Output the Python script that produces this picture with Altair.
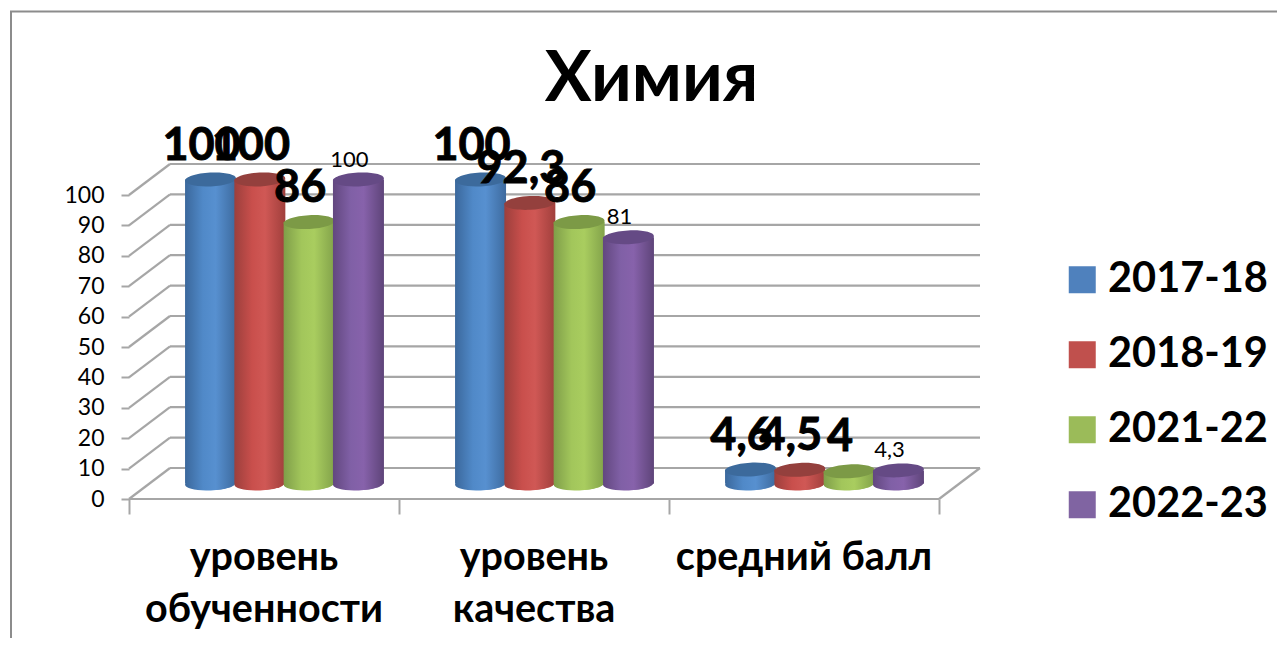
import altair as alt
import pandas as pd

FONT = "Lato"
GRAY = "#a6a6a6"

categories = ["уровень обученности", "уровень качества", "средний балл"]
category_lines = [["уровень", "обученности"], ["уровень", "качества"], ["средний балл"]]
series = ["2017-18", "2018-19", "2021-22", "2022-23"]
values_2017 = [100, 100, 4.6]
values_2018 = [100, 92.3, 4.5]
values_2021 = [86, 86, 4]
values_2022 = [100, 81, 4.3]
all_values = [values_2017, values_2018, values_2021, values_2022]
y_ticks = [0, 10, 20, 30, 40, 50, 60, 70, 80, 90, 100]

legend_colors = ["#4f81bd", "#c0504d", "#9bbb59", "#8064a2"]
top_colors = ["#3c6a9c", "#94403d", "#7c9a46", "#654a85"]
body_stops = [
    ["#3b689c", "#5089c8", "#5790d0", "#3d6a9e"],
    ["#9c3f3c", "#c94f4c", "#d05855", "#a03f3c"],
    ["#7f9e49", "#a2c65b", "#a9cd5f", "#82a24a"],
    ["#62477f", "#8060a6", "#8762ab", "#5e4479"],
]

# page geometry of the pseudo-3D box
W, H = 1269, 630
PX_X = 270.0            # px per category
PX_Y = 3.04             # px per value unit
X0 = 121.0              # plot px of x = 0
Y0 = 491.0              # plot px of y = 0
DEPTH_X = 41.0 / PX_X   # wall depth in x units
DEPTH_Y = 31.0 / PX_Y   # wall depth in y units
SPACING = 49.3 / PX_X
CYL_W = 51.0 / PX_X
ELLIPSE = "M-1,0 A1,0.27 0 1 1 1,0 A1,0.27 0 1 1 -1,0 Z"

x_scale = alt.Scale(domain=[-X0 / PX_X, (W - X0) / PX_X], nice=False, zero=False)
y_scale = alt.Scale(domain=[(Y0 - H) / PX_Y, Y0 / PX_Y], nice=False, zero=False)
X = lambda f, **k: alt.X(f, type="quantitative", scale=x_scale, title=None, **k)
Y = lambda f, **k: alt.Y(f, type="quantitative", scale=y_scale, title=None, **k)

# walls
lines = []
for v in y_ticks:
    lines.append(dict(x=DEPTH_X, x2=3 + DEPTH_X, y=v + DEPTH_Y, y2=v + DEPTH_Y))
    lines.append(dict(x=0, x2=DEPTH_X, y=v, y2=v + DEPTH_Y))
lines.append(dict(x=0, x2=3, y=0, y2=0))
lines.append(dict(x=3, x2=3 + DEPTH_X, y=0, y2=DEPTH_Y))
grid = alt.Chart(pd.DataFrame(lines)).mark_rule(color=GRAY, strokeWidth=2.2).encode(
    x=X("x", axis=alt.Axis(values=[0, 1, 2, 3], labels=False, domain=False, grid=False,
                           ticks=True, tickSize=15, tickColor=GRAY, tickWidth=2,
                           offset=-(H - Y0))),
    x2="x2",
    y=Y("y", axis=alt.Axis(values=y_ticks, domain=False, grid=False, ticks=True, tickSize=8,
                           tickColor=GRAY, tickWidth=2, offset=-X0, labelFont=FONT,
                           labelFontSize=23, labelColor="#000000", labelPadding=17)),
    y2="y2",
)

# frame
frame_left = alt.Chart().mark_rule(color="#8c8c8c", strokeWidth=2).encode(
    x=alt.value(3), y=alt.value(3), y2=alt.value(H))
frame_top = alt.Chart().mark_rule(color="#8c8c8c", strokeWidth=2).encode(
    y=alt.value(3.5), x=alt.value(2), x2=alt.value(W))

rows = []
for j, s in enumerate(series):
    for i, c in enumerate(categories):
        v = all_values[j][i]
        cx = i + 0.5 + DEPTH_X / 2 + (j - 1.5) * SPACING
        rows.append(dict(series=s, category=c, value=v, label=str(v).replace(".", ","),
                         cx=cx, left=cx - CYL_W / 2, right=cx + CYL_W / 2,
                         base=DEPTH_Y / 2, top=v + DEPTH_Y / 2))
df = pd.DataFrame(rows)

size = CYL_W**2 * PX_X**2

# legend carrier, hidden below the shaded cylinder bases
legend_layer = alt.Chart(df).mark_point(shape=ELLIPSE, filled=True, size=size * 0.9, opacity=1).encode(
    x=X("cx"), y=Y("base"),
    color=alt.Color("series:N", scale=alt.Scale(domain=series, range=legend_colors),
                    legend=alt.Legend(title=None, orient="none", legendX=1053.5, legendY=251,
                                      direction="vertical", symbolType="square", symbolSize=729,
                                      symbolStrokeWidth=0, symbolOpacity=1,
                                      labelFont=FONT, labelFontSize=41.5, labelFontWeight="bold",
                                      labelColor="#000000", labelOffset=5, labelLimit=300,
                                      rowPadding=32, padding=0)),
)

layers = [frame_left, frame_top, grid, legend_layer]
for j, s in enumerate(series):
    d = df[df.series == s]
    st = body_stops[j]
    grad = alt.Gradient(gradient="linear", x1=0, x2=1, y1=0, y2=0,
                        stops=[alt.GradientStop(color=st[0], offset=0),
                               alt.GradientStop(color=st[1], offset=0.35),
                               alt.GradientStop(color=st[2], offset=0.6),
                               alt.GradientStop(color=st[3], offset=1)])
    base = alt.Chart(d)
    layers.append(base.mark_point(shape=ELLIPSE, filled=True, fill=grad, size=size, angle=357, opacity=1,
                                  stroke=None).encode(x=X("cx"), y=Y("base")))
    layers.append(base.mark_rect(fill=grad).encode(x=X("left"), x2="right", y=Y("base"), y2="top"))
    layers.append(base.mark_point(shape=ELLIPSE, filled=True, fill=top_colors[j], size=size, angle=357,
                                  opacity=1, stroke=None).encode(x=X("cx"), y=Y("top")))

# value labels: the first three series are large and bold, the last one small
big = df[df.series != series[3]]
small = df[df.series == series[3]]
layers.append(alt.Chart(big).mark_text(font=FONT, fontSize=45, fontWeight="bold", color="#000000",
                                       stroke="#000000", strokeWidth=0.9,
                                       align="center", baseline="alphabetic", dx=-9, dy=-20).encode(
    x=X("cx"), y=Y("top"), text="label:N"))
layers.append(alt.Chart(small).mark_text(font=FONT, fontSize=22, color="#000000",
                                         align="center", baseline="alphabetic", dx=-9, dy=-13).encode(
    x=X("cx"), y=Y("top"), text="label:N"))

# category labels
cat_df = pd.DataFrame([dict(x=i + 0.5, lines=category_lines[i]) for i in range(3)])
layers.append(alt.Chart(cat_df).mark_text(font=FONT, fontSize=39.5, fontWeight="bold", color="#000000",
                                          align="center", baseline="alphabetic", lineHeight=52).encode(
    x=X("x"), y=alt.value(562), text="lines:N"))

chart = alt.layer(*layers).properties(
    width=W, height=H, padding=0, autosize=alt.AutoSizeParams(type="none"),
    title=alt.TitleParams("Химия", font=FONT, fontSize=70, fontWeight="bold", color="#000000",
                          anchor="middle", dx=9, dy=112),
).configure_view(stroke=None)

chart.save("out.html", embed_options={"renderer": "svg", "actions": False})
